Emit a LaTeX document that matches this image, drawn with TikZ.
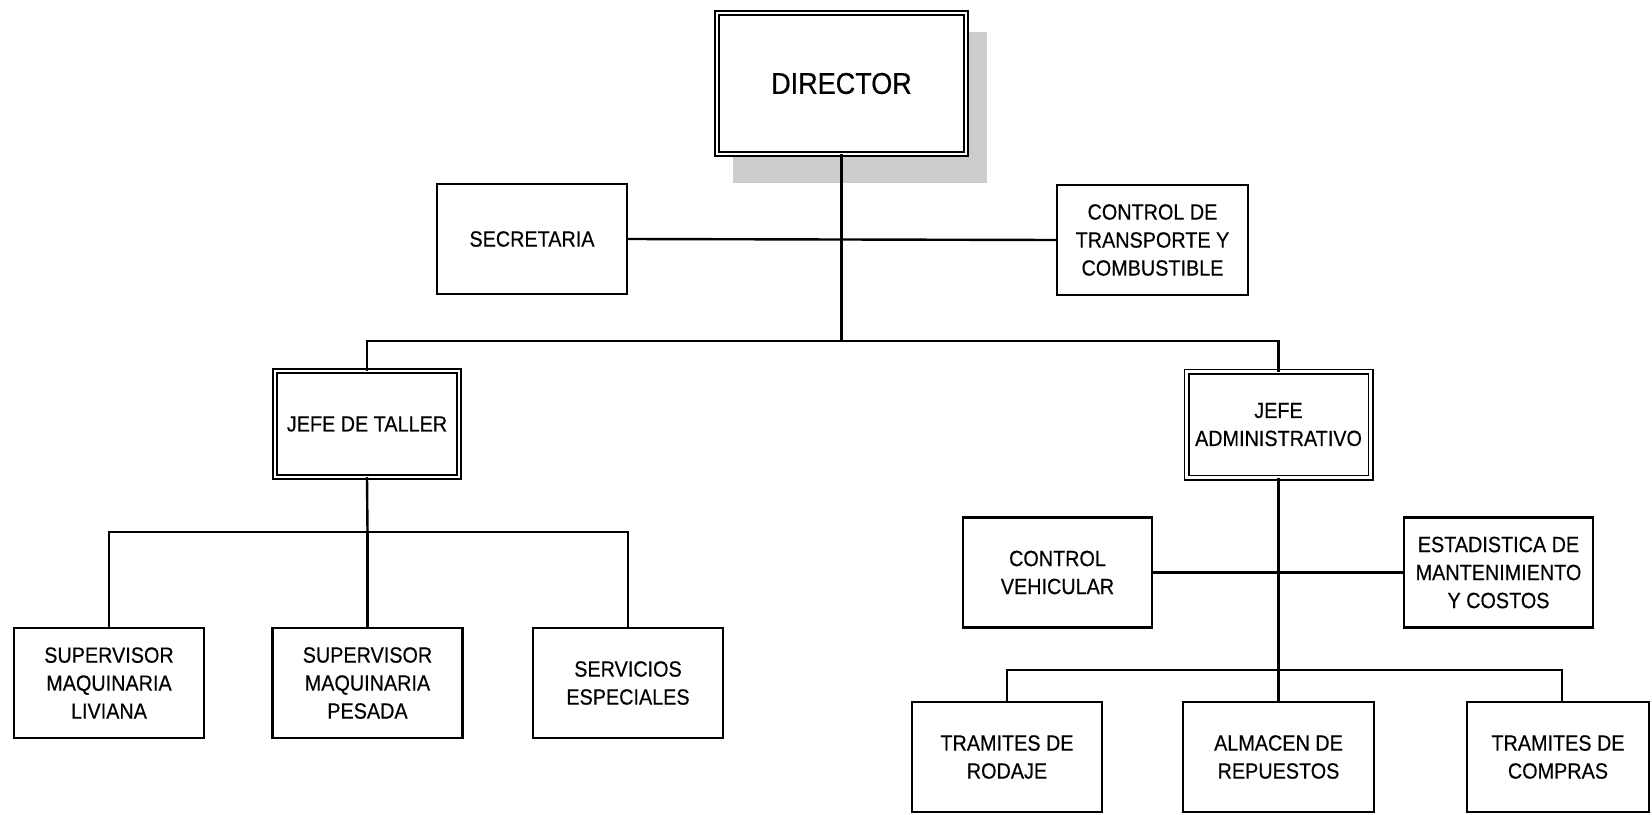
\documentclass[tikz,border=0pt]{standalone}
\usepackage{fontspec}
\setmainfont{Liberation Sans}[FakeStretch=0.9, FakeBold=0.4]
\tikzset{
  unit/.style={draw, line width=2.6pt, minimum width=190pt, minimum height=110pt,
    inner sep=0pt, outer sep=0pt, align=center, fill=white,
    font=\fontsize{22}{28}\selectfont},
  chief/.style={unit, line width=1.8pt, double=white, double distance=2.4pt,
    minimum width=184pt, minimum height=106pt},
  link/.style={line width=2.4pt},
}
\begin{document}
\begin{tikzpicture}[x=1pt, y=-1pt]
\useasboundingbox (0,0) rectangle (1652,814);

% shadow behind the director box
\fill[gray!40] (733,32) rectangle (987,183);
\node[chief, minimum width=249pt, minimum height=141pt,
      font=\fontsize{30}{36}\selectfont] (dir) at (841.5,83.5) {DIRECTOR};

% staff units
\node[unit] (sec) at (532,239) {SECRETARIA};
\node[unit, minimum width=191pt] (ctc) at (1152.5,240) {CONTROL DE\\TRANSPORTE Y\\COMBUSTIBLE};

% department heads
\node[chief] (jt) at (367,424) {JEFE DE TALLER};
\node[chief] (ja) at (1278.5,424.5) {JEFE\\ADMINISTRATIVO};

% workshop units
\node[unit] (liv) at (109,683) {SUPERVISOR\\MAQUINARIA\\LIVIANA};
\node[unit] (pes) at (367.5,683) {SUPERVISOR\\MAQUINARIA\\PESADA};
\node[unit] (ser) at (628,683) {SERVICIOS\\ESPECIALES};

% administrative units
\node[unit, minimum width=189pt] (cv) at (1057.5,572.5) {CONTROL\\VEHICULAR};
\node[unit, minimum width=189pt] (est) at (1498.5,572.5) {ESTADISTICA DE\\MANTENIMIENTO\\Y COSTOS};
\node[unit] (rod) at (1007,757) {TRAMITES DE\\RODAJE};
\node[unit, minimum width=191pt] (alm) at (1278.5,757) {ALMACEN DE\\REPUESTOS};
\node[unit, minimum width=182pt] (cmp) at (1558,757) {TRAMITES DE\\COMPRAS};

% bus points
\coordinate (busA) at (841.5,341);
\coordinate (busB) at (367.5,532);
\coordinate (busC) at (1278.5,670);
\coordinate (cbr) at (1562,670);

% connectors
\draw[link] (sec.east) -- (ctc.west);
\draw[link] (dir.south) -- (busA);
\draw[link] (jt.north) |- (busA) -| (ja.north);

\draw[link] (jt.south) -- (busB);
\draw[link] (liv.north) |- (busB) -| (ser.north);
\draw[link] (busB) -- (pes.north);

\draw[link] (ja.south) -- (busC);
\draw[link] (cv.east) -- (est.west);
\draw[link] (rod.north) |- (busC) -- (cbr) -- (cbr |- cmp.north);
\draw[link] (busC) -- (alm.north);
\end{tikzpicture}
\end{document}
